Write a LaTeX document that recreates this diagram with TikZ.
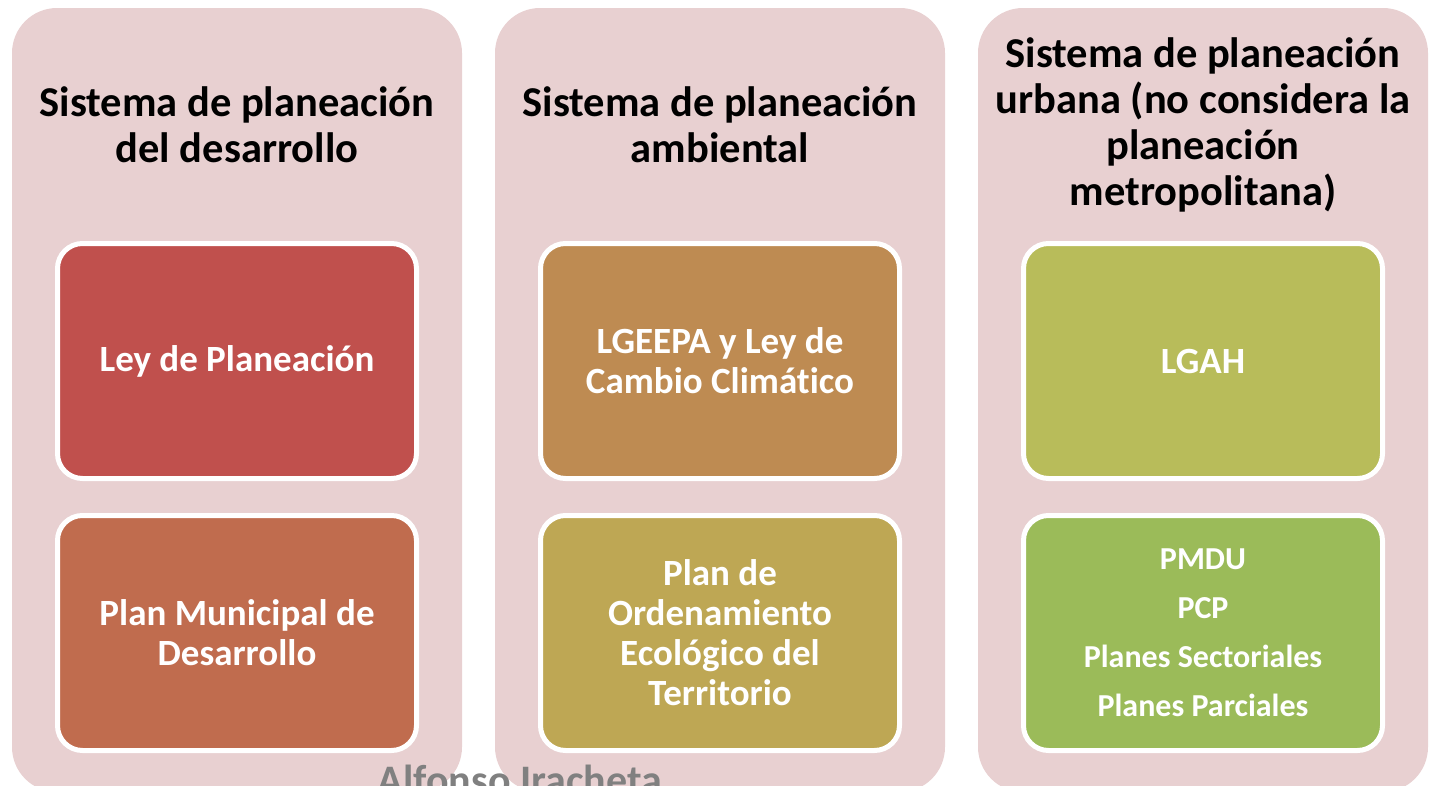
\documentclass[tikz,border=0pt]{standalone}
\usepackage{fontspec}
\setmainfont{Carlito}[Ligatures=NoCommon]
\usetikzlibrary{positioning}
\definecolor{Pink-bg}{RGB}{232,208,209}
\definecolor{Red-1}{RGB}{192,80,77}
\definecolor{Red-2}{RGB}{192,108,78}
\definecolor{Ochre-1}{RGB}{190,139,82}
\definecolor{Ochre-2}{RGB}{190,167,84}
\definecolor{Olive-1}{RGB}{184,188,90}
\definecolor{Green-1}{RGB}{155,187,89}
\definecolor{Gray-wm}{RGB}{128,128,128}

\begin{document}
\begin{tikzpicture}[x=1pt,y=-1pt]
      \tikzset{ sys/.style ={fill=Pink-bg, rounded corners=45pt, minimum width=450pt, minimum height=784pt, inner sep=0pt} }
      \tikzset{ ttl/.style ={text=black, align=center, font=\bfseries\fontsize{42.5}{46}\selectfont} }
      \tikzset{ itm/.style ={draw=white, line width=5pt, rounded corners=25pt, text=white, minimum width=359pt, minimum height=235pt, align=center, font=\bfseries\fontsize{37}{40}\selectfont} }
      \tikzset{ lst/.style ={font=\bfseries\fontsize{32}{49}\selectfont} }

      \useasboundingbox (0,0) rectangle (1433,785);
      \clip (0,0) rectangle (1433,785);

      \node[sys] (s1) at (237,400)  {};
      \node[sys] (s2) at (720,400)  {};
      \node[sys] (s3) at (1203,400) {};

      \node[ttl] (h1) at (237,125)  {Sistema de planeación\\del desarrollo};
      \node[ttl] (h2) at (720,125)  {Sistema de planeación\\ambiental};
      \node[ttl] (h3) at (1203,125) {Sistema de planeación\\urbana (no considera la\\planeación\\metropolitana)};

      \node[itm, fill=Red-1  ] (a1) at (237,361)  {Ley de Planeación};
      \node[itm, fill=Red-2  , below=32pt of a1] (a2) {Plan Municipal de\\Desarrollo};
      \node[itm, fill=Ochre-1] (b1) at (720,361)  {LGEEPA y Ley de\\Cambio Climático};
      \node[itm, fill=Ochre-2, below=32pt of b1] (b2) {Plan de\\Ordenamiento\\Ecológico del\\Territorio};
      \node[itm, fill=Olive-1] (c1) at (1203,361) {LGAH};
      \node[itm, fill=Green-1, below=32pt of c1, lst] (c2) {PMDU\\PCP\\Planes Sectoriales\\Planes Parciales};

      \node[anchor=base, text=Gray-wm, font=\bfseries\fontsize{42}{46}\selectfont] (wm) at (520,794) {Alfonso Iracheta};
    \end{tikzpicture}
\end{document}
